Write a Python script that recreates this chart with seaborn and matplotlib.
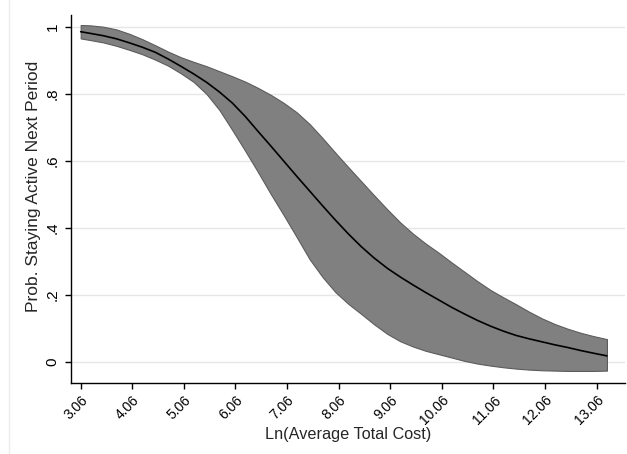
"""
Probabilité de rester actif selon le log du coût total moyen (avec IC).
"""

import matplotlib
matplotlib.use("Agg")
import matplotlib.pyplot as plt
import pandas as pd
import seaborn as sns

# valeurs
ln_cost = [3.06, 3.25, 3.5, 3.75, 4.0, 4.25, 4.5, 4.75, 5.0, 5.25, 5.5, 5.75,
           6.0, 6.25, 6.5, 6.75, 7.0, 7.25, 7.5, 7.75, 8.0, 8.25, 8.5, 8.75,
           9.0, 9.25, 9.5, 9.75, 10.0, 10.25, 10.5, 10.75, 11.0, 11.25, 11.5, 11.75,
           12.0, 12.25, 12.5, 12.75, 13.0, 13.26]
prob = [0.986, 0.981, 0.974, 0.965, 0.953, 0.940, 0.925, 0.905, 0.883, 0.860, 0.835, 0.806,
        0.773, 0.733, 0.688, 0.644, 0.599, 0.554, 0.510, 0.466, 0.423, 0.382, 0.344, 0.310,
        0.280, 0.254, 0.230, 0.207, 0.185, 0.163, 0.143, 0.124, 0.107, 0.092, 0.079, 0.069,
        0.060, 0.051, 0.043, 0.034, 0.026, 0.018]
ci_upper = [1.006, 1.005, 1.001, 0.993, 0.980, 0.964, 0.946, 0.927, 0.910, 0.896, 0.883, 0.868,
            0.853, 0.837, 0.818, 0.797, 0.773, 0.745, 0.710, 0.668, 0.624, 0.581, 0.539, 0.497,
            0.456, 0.417, 0.383, 0.353, 0.326, 0.297, 0.269, 0.241, 0.215, 0.193, 0.172, 0.150,
            0.130, 0.113, 0.099, 0.087, 0.077, 0.068]
ci_lower = [0.966, 0.961, 0.954, 0.944, 0.932, 0.919, 0.903, 0.885, 0.862, 0.836, 0.800, 0.752,
            0.692, 0.630, 0.566, 0.500, 0.437, 0.372, 0.306, 0.253, 0.208, 0.173, 0.143, 0.112,
            0.084, 0.062, 0.046, 0.033, 0.023, 0.013, 0.003, -0.005, -0.011, -0.016, -0.020, -0.023,
            -0.025, -0.026, -0.027, -0.027, -0.027, -0.026]

xticks = [3.06, 4.06, 5.06, 6.06, 7.06, 8.06, 9.06, 10.06, 11.06, 12.06, 13.06]
yticks = [0, 0.2, 0.4, 0.6, 0.8, 1]
ytick_labels = ["0", ".2", ".4", ".6", ".8", "1"]

df = pd.DataFrame({"ln_cost": ln_cost, "prob": prob,
                   "upper": ci_upper, "lower": ci_lower})

sns.set_style("white")
plt.rcParams["font.family"] = ["Liberation Sans", "DejaVu Sans"]

fig = plt.figure(figsize=(6.27, 4.54), dpi=100)
ax = fig.add_axes([0.1132, 0.1564, 0.8836, 0.8106])

ax.fill_between(df["ln_cost"], df["lower"], df["upper"],
                facecolor="#808080", edgecolor="#5c5c5c", linewidth=0.8, zorder=2)
sns.lineplot(data=df, x="ln_cost", y="prob", color="black", linewidth=1.2,
             ax=ax, zorder=3)

ax.set_xlim(2.872, 13.61)
ax.set_ylim(-0.063, 1.036)

ax.set_yticks(yticks)
ax.set_yticklabels(ytick_labels, rotation=90, va="center", fontsize=11)
ax.set_xticks(xticks)
ax.set_xticklabels([f"{t:.2f}" for t in xticks], rotation=45, ha="right",
                   rotation_mode="anchor", fontsize=10)

ax.yaxis.grid(True, color="#e6e6e6", linewidth=1, zorder=0)
ax.xaxis.grid(False)
ax.set_axisbelow(True)
ax.tick_params(axis="both", direction="out", length=4.3, width=1, color="black",
               left=True, bottom=True, labelcolor="black")
ax.tick_params(axis="x", pad=3)
ax.tick_params(axis="y", pad=4)

for side in ["top", "right"]:
    ax.spines[side].set_visible(False)
for side in ["left", "bottom"]:
    ax.spines[side].set_color("black")
    ax.spines[side].set_linewidth(1)

ax.set_xlabel("Ln(Average Total Cost)", fontsize=11.7, labelpad=-0.5)
ax.set_ylabel("Prob. Staying Active Next Period", fontsize=12.5)
ax.yaxis.set_label_coords(-0.055, 0.533)

# cadre de la zone graphique (style Stata)
fig.add_artist(plt.Line2D([9 / 627, 9 / 627], [0, 1], color="#ececec",
                          linewidth=1, transform=fig.transFigure))

fig.savefig("out.png", dpi=100, facecolor="white")
